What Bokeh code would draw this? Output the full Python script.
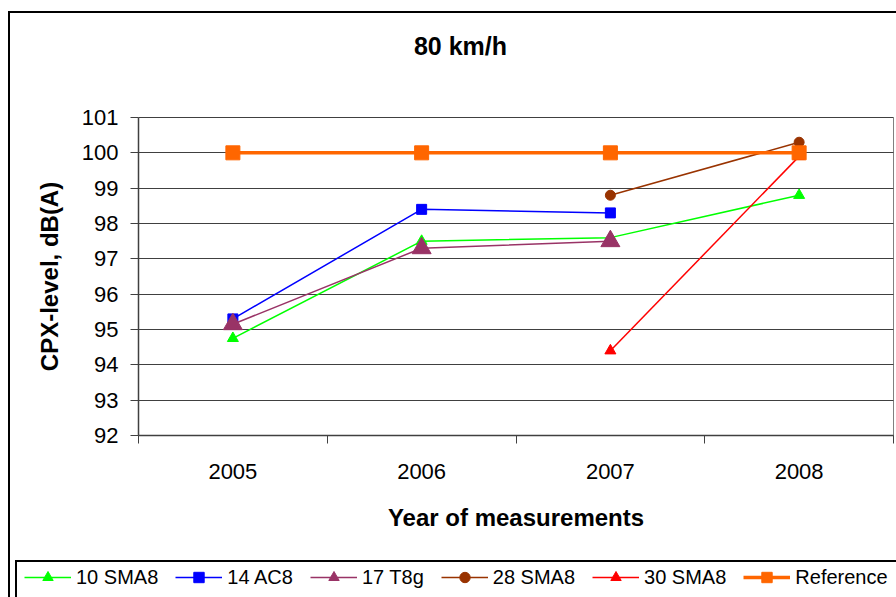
import math

from bokeh.embed import file_html
from bokeh.models import FixedTicker, Label, Legend, LegendItem, Range1d
from bokeh.plotting import figure
from bokeh.resources import INLINE

# CPX noise level at 80 km/h, per test section and measurement year
years = [2005, 2006, 2007, 2008]
nan = math.nan
sma8_10 = [94.75, 97.5, 97.6, 98.8]
ac8_14 = [95.3, 98.4, 98.3, nan]
t8g_17 = [95.15, 97.3, 97.5, nan]
sma8_28 = [nan, nan, 98.8, 100.3]
sma8_30 = [nan, nan, 94.4, 99.9]
reference = [100, 100, 100, 100]

y_ticks = [92, 93, 94, 95, 96, 97, 98, 99, 100, 101]
year_bounds = [2004.5, 2005.5, 2006.5, 2007.5, 2008.5]

FONT = "Liberation Sans"
GRID = "#404040"
BLACK = "linear-gradient(#000,#000)"

# canvas size and where the plotting area sits on it (pixels)
W, H = 896, 597
AREA_L, AREA_R, AREA_T, AREA_B = 138, 893, 117, 435

x0, x1 = year_bounds[0], year_bounds[-1]
y0, y1 = y_ticks[0], y_ticks[-1]
kx = (AREA_R - AREA_L) / (x1 - x0)
ky = (AREA_B - AREA_T) / (y1 - y0)

# the frame covers the whole canvas; axes are pinned to the plotting area
p = figure(width=W, height=H, output_backend="svg", toolbar_location=None,
           x_range=Range1d(x0 - AREA_L / kx, x1 + (W - AREA_R) / kx),
           y_range=Range1d(y0 - (H - AREA_B) / ky, y1 + AREA_T / ky),
           min_border=0)
p.background_fill_alpha = 0
p.border_fill_alpha = 0
p.outline_line_color = None
# chart frame (top/left) and legend box edges, drawn behind the canvas
p.styles = {"background": f"{BLACK} 8px 11px / 2px 100% no-repeat, "
                          f"{BLACK} 8px 11px / 100% 2px no-repeat, "
                          f"{BLACK} 15px 560px / 2px 100% no-repeat, "
                          f"{BLACK} 15px 560px / 100% 2px no-repeat, #fff"}

# axes
p.xaxis.fixed_location = y0
p.xaxis.bounds = (x0, x1)
p.xaxis.ticker = FixedTicker(ticks=years, minor_ticks=year_bounds)
p.xaxis.major_tick_line_color = None
p.xaxis.minor_tick_in = 0
p.xaxis.minor_tick_out = 8
p.xaxis.minor_tick_line_color = GRID
p.xaxis.major_label_standoff = 20
p.yaxis.fixed_location = x0
p.yaxis.bounds = (y0, y1)
p.yaxis.ticker = FixedTicker(ticks=y_ticks, minor_ticks=[])
p.yaxis.major_tick_in = 0
p.yaxis.major_tick_out = 8
p.yaxis.major_tick_line_color = GRID
p.yaxis.major_label_standoff = 12
for ax in (p.xaxis, p.yaxis):
    ax.axis_line_color = GRID
    ax.axis_line_width = 1.5
    ax.major_label_text_font = FONT
    ax.major_label_text_font_size = "22px"
    ax.major_label_text_color = "black"
    ax.axis_label_text_font = FONT
    ax.axis_label_text_font_size = "24px"
    ax.axis_label_text_font_style = "bold"
    ax.axis_label_text_color = "black"
p.xaxis.axis_label = "Year of measurements"
p.xaxis.axis_label_standoff = 22
p.yaxis.axis_label = "CPX-level, dB(A)"
p.yaxis.axis_label_standoff = 16

# horizontal gridlines across the plotting area, plus its right-hand edge
p.ygrid.ticker = FixedTicker(ticks=y_ticks)
p.ygrid.bounds = (y0, y1)
p.ygrid.cross_bounds = (x0, x1)
p.ygrid.grid_line_color = GRID
p.ygrid.grid_line_width = 1
p.xgrid.ticker = FixedTicker(ticks=[x1])
p.xgrid.bounds = (x0, x1)
p.xgrid.cross_bounds = (y0, y1)
p.xgrid.grid_line_color = "#808080"
p.xgrid.grid_line_width = 1


def drop_missing(xs, ys):
    pts = [(x, y) for x, y in zip(xs, ys) if not math.isnan(y)]
    return [a for a, _ in pts], [b for _, b in pts]


series = [
    ("10 SMA8", sma8_10, "#00FF00", "triangle", 11, 1.5),
    ("14 AC8", ac8_14, "#0000FF", "square", 10, 1.5),
    ("17 T8g", t8g_17, "#993366", "triangle", 19, 1.5),
    ("28 SMA8", sma8_28, "#993300", "circle", 10, 1.5),
    ("30 SMA8", sma8_30, "#FF0000", "triangle", 11, 1.5),
    ("Reference", reference, "#FF6600", "square", 14, 3.5),
]

items = []
for name, vals, color, marker, size, lw in series:
    xs, ys = drop_missing(years, vals)
    ln = p.line(xs, ys, line_color=color, line_width=lw)
    mk = p.scatter(xs, ys, marker=marker, size=size, fill_color=color,
                   line_color=color)
    items.append(LegendItem(label=name, renderers=[ln, mk]))

legend = Legend(items=items, orientation="horizontal", location=(24, 7),
                glyph_width=47, glyph_height=26, label_standoff=5, spacing=17,
                padding=7, margin=0, border_line_color=None,
                background_fill_alpha=0, label_text_font=FONT,
                label_text_font_size="20px", label_text_color="black")
p.add_layout(legend)

# chart title
p.add_layout(Label(x=460, y=H - 45, x_units="screen", y_units="screen",
                   text="80 km/h", text_align="center", text_baseline="middle",
                   text_font=FONT, text_font_size="25px", text_font_style="bold",
                   text_color="black"))

open("out.html", "w").write(file_html(p, INLINE))
